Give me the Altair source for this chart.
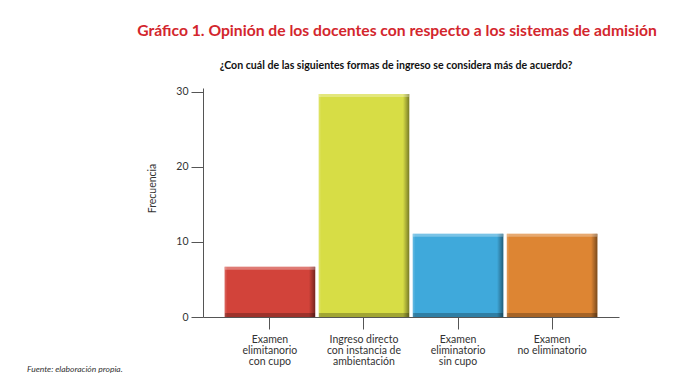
import altair as alt
import pandas as pd
import json

categories = ["Examen elimitanorio con cupo", "Ingreso directo con instancia de ambientación",
              "Examen eliminatorio sin cupo", "Examen no eliminatorio"]
label_lines = [["Examen", "elimitanorio", "con cupo"],
               ["Ingreso directo", "con instancia de", "ambientación"],
               ["Examen", "eliminatorio", "sin cupo"],
               ["Examen", "no eliminatorio"]]
values = [6.7, 29.7, 11.1, 11.1]
colors = ["#d2433a", "#d7dd45", "#3fa9db", "#dd8533"]
y_ticks = [0, 10, 20, 30]

title_text = "Gráfico 1. Opinión de los docentes con respecto a los sistemas de admisión"
subtitle_text = "¿Con cuál de las siguientes formas de ingreso se considera más de acuerdo?"
footer_text = "Fuente: elaboración propia."

df = pd.DataFrame({"cat": categories, "val": values})
label_map = json.dumps(dict(zip(categories, label_lines)), ensure_ascii=False)

W, H = 416, 229
FONT = "Lato"

x_enc = alt.X("cat:N", sort=categories,
              scale=alt.Scale(paddingInner=0.037, paddingOuter=0.23),
              axis=alt.Axis(title=None, labelExpr=f"{label_map}[datum.label]",
                            labelAngle=0, labelFontSize=10.5, labelLineHeight=11,
                            labelColor="#333", labelFont=FONT, labelPadding=5,
                            tickSize=12, tickColor="#555", domainColor="#555",
                            labelBaseline="top"))
y_enc = alt.Y("val:Q", scale=alt.Scale(domain=[0, 30.5], nice=False),
              axis=alt.Axis(title="Frecuencia", values=y_ticks, grid=False,
                            tickSize=12, tickColor="#555", domainColor="#555",
                            labelFontSize=10.5, labelColor="#333", labelFont=FONT,
                            labelPadding=3, titleFont=FONT, titleFontSize=10.5,
                            titleFontWeight="normal", titleColor="#333",
                            titleAngle=-90, titleX=-51, titleY=100,
                            titleAlign="center", titleBaseline="middle"))

base = alt.Chart(df)
bars = base.mark_bar().encode(
    x=x_enc, y=y_enc,
    color=alt.Color("cat:N", sort=categories,
                    scale=alt.Scale(domain=categories, range=colors), legend=None))

shade_h = base.mark_bar(color=alt.LinearGradient(
    gradient="linear", x1=0, x2=1, y1=0, y2=0,
    stops=[alt.GradientStop(offset=0, color="rgba(255,255,255,0.2)"),
           alt.GradientStop(offset=0.03, color="rgba(255,255,255,0)"),
           alt.GradientStop(offset=0.93, color="rgba(0,0,0,0)"),
           alt.GradientStop(offset=0.97, color="rgba(0,0,0,0.25)"),
           alt.GradientStop(offset=1, color="rgba(0,0,0,0.45)")])).encode(
    x=alt.X("cat:N", sort=categories), y="val:Q")

top_hl = base.mark_tick(color="white", opacity=0.3, thickness=3, size=90, yOffset=1.5).encode(
    x=alt.X("cat:N", sort=categories), y="val:Q")
bottom_dk = base.mark_tick(color="black", opacity=0.25, thickness=4, size=90, yOffset=-2).encode(
    x=alt.X("cat:N", sort=categories), y=alt.datum(0))

tdf = pd.DataFrame({"t": [title_text]})
sdf = pd.DataFrame({"t": [subtitle_text]})
fdf = pd.DataFrame({"t": [footer_text]})

title = alt.Chart(tdf).mark_text(font=FONT, fontSize=15.7, fontWeight="bold", color="#d3262d",
                                 align="center", baseline="alphabetic").encode(
    text="t:N", x=alt.value(194), y=alt.value(-52))
subtitle = alt.Chart(sdf).mark_text(font=FONT, fontSize=10.6, fontWeight="bold", color="#111",
                                    align="center", baseline="alphabetic").encode(
    text="t:N", x=alt.value(193), y=alt.value(-19))
footer = alt.Chart(fdf).mark_text(font=FONT, fontSize=8.5, fontStyle="italic", color="#333",
                                  align="left", baseline="middle").encode(
    text="t:N", x=alt.value(-176), y=alt.value(281))

chart = alt.layer(bars, shade_h, top_hl, bottom_dk, title, subtitle, footer).properties(
    width=W, height=H,
    background="white",
    autosize=alt.AutoSizeParams(type="none"),
    padding={"left": 195, "top": 80, "right": 60, "bottom": 60},
).configure_view(stroke=None)

chart.save("out.html", embed_options={"renderer": "svg", "actions": False})
